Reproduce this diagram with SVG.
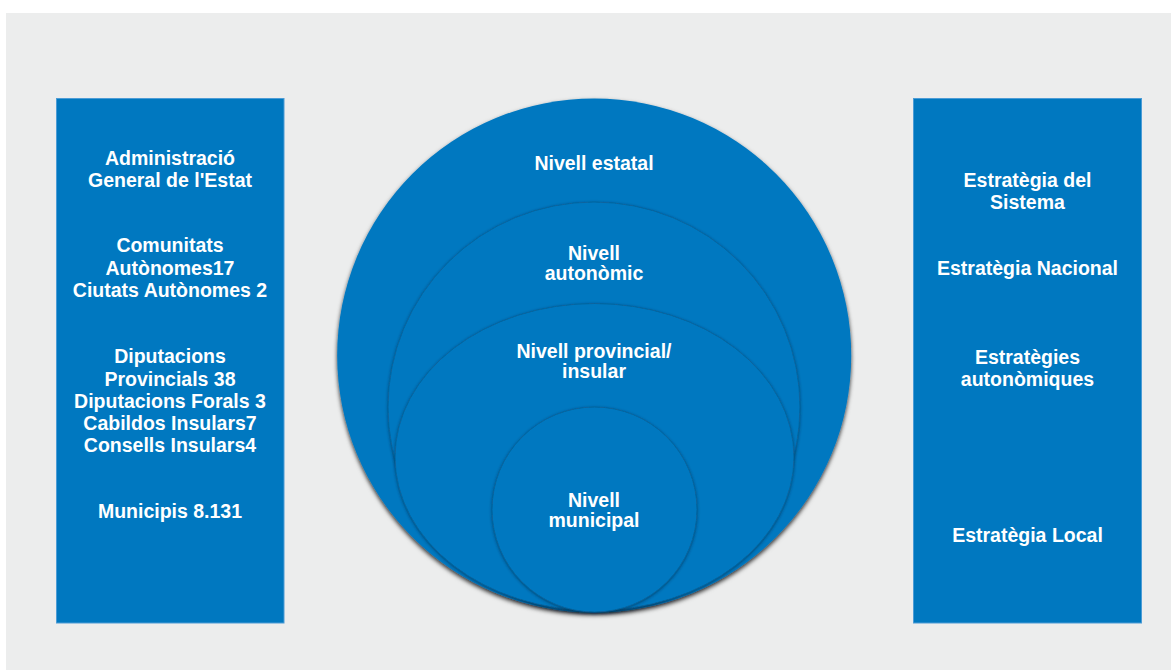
<svg xmlns="http://www.w3.org/2000/svg" width="1171" height="670" viewBox="0 0 1171 670">
<defs>
<style>
.box{fill:#0078C0;stroke:#4C9CD6;stroke-width:1}
.lvl{fill:#0078C0}
.inner{stroke:#0B5F97;stroke-width:0.8}
text{font-family:"Liberation Sans",Arial,sans-serif;font-weight:bold;font-size:19.5px;fill:#FFFFFF;text-anchor:middle}
</style>
<filter id="shOuter" x="-10%" y="-10%" width="120%" height="125%">
<feDropShadow dx="0" dy="2.5" stdDeviation="2" flood-color="#000000" flood-opacity="0.8"/>
</filter>
<filter id="shInner" x="-10%" y="-10%" width="120%" height="125%">
<feDropShadow dx="0" dy="1" stdDeviation="1.5" flood-color="#002540" flood-opacity="0.6"/>
</filter>
</defs>
<rect x="0" y="0" width="1171" height="670" fill="#FFFFFF"/>
<rect x="6" y="13" width="1165" height="657" fill="#ECEDED"/>

<g id="left-box">
<rect class="box" x="56.5" y="98.5" width="227.5" height="524.5"/>
<text x="170" y="165">Administració</text>
<text x="170" y="187">General de l'Estat</text>
<text x="170" y="252.3">Comunitats</text>
<text x="170" y="274.5">Autònomes17</text>
<text x="170" y="296.7">Ciutats Autònomes 2</text>
<text x="170" y="363.3">Diputacions</text>
<text x="170" y="385.5">Provincials 38</text>
<text x="170" y="407.6">Diputacions Forals 3</text>
<text x="170" y="429.7">Cabildos Insulars7</text>
<text x="170" y="451.8">Consells Insulars4</text>
<text x="170" y="518.3">Municipis 8.131</text>
</g>

<g id="right-box">
<rect class="box" x="913.5" y="98.5" width="228" height="524.5"/>
<text x="1027.5" y="186.7">Estratègia del</text>
<text x="1027.5" y="209">Sistema</text>
<text x="1027.5" y="275">Estratègia Nacional</text>
<text x="1027.5" y="364.3">Estratègies</text>
<text x="1027.5" y="386">autonòmiques</text>
<text x="1027.5" y="541.7">Estratègia Local</text>
</g>

<g id="nivell-estatal">
<circle class="lvl" cx="594.2" cy="355.5" r="257" filter="url(#shOuter)"/>
<text x="594" y="170">Nivell estatal</text>
</g>

<g id="nivell-autonomic">
<ellipse class="lvl inner" cx="594" cy="407" rx="206" ry="205" filter="url(#shInner)"/>
<text x="594" y="260">Nivell</text>
<text x="594" y="280">autonòmic</text>
</g>

<g id="nivell-provincial">
<ellipse class="lvl inner" cx="594.5" cy="457" rx="199.5" ry="153.5" filter="url(#shInner)"/>
<text x="594" y="358.3">Nivell provincial/</text>
<text x="594" y="378.3">insular</text>
</g>

<g id="nivell-municipal">
<circle class="lvl inner" cx="594.5" cy="509.5" r="102.5" filter="url(#shInner)"/>
<text x="594" y="506.7">Nivell</text>
<text x="594" y="526.7">municipal</text>
</g>

<g id="connectors"/>
</svg>
